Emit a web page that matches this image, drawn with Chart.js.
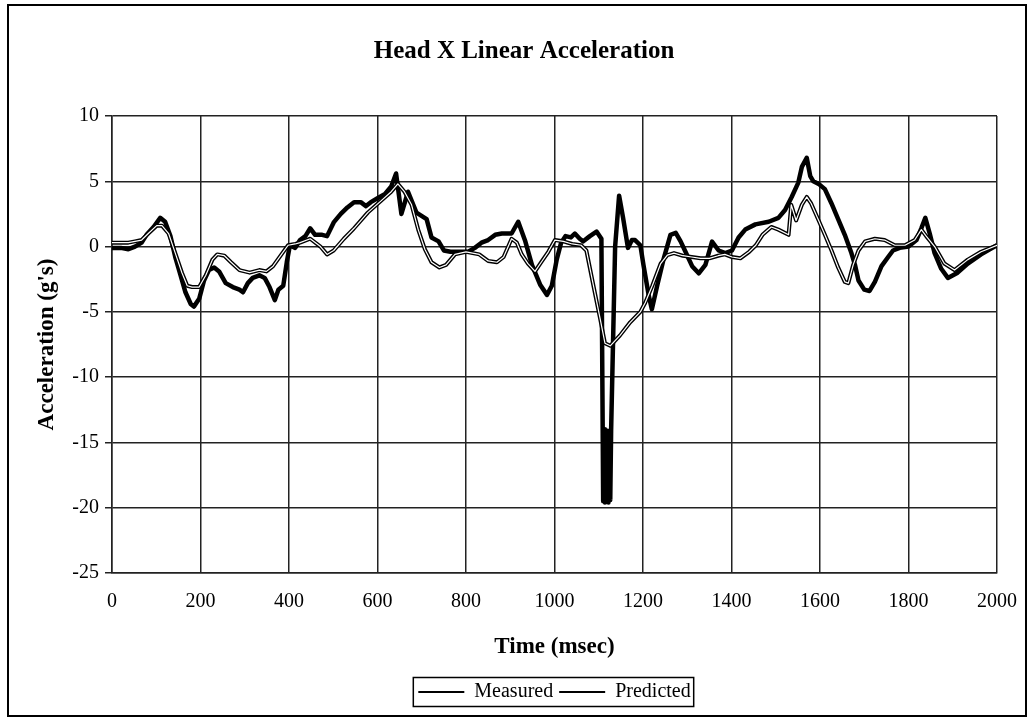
<!DOCTYPE html>
<html>
<head>
<meta charset="utf-8">
<title>Head X Linear Acceleration</title>
<script src="https://cdn.jsdelivr.net/npm/chart.js@4.4.1/dist/chart.umd.min.js"></script>
<style>
    html, body { margin: 0; padding: 0; background: #fff; }
    #wrap { width: 1029px; height: 721px; }
</style>
</head>
<body>
<div id="wrap"><canvas id="accelChart" width="1029" height="721"></canvas></div>
<script>
// Chart text
const CHART_TITLE = 'Head X Linear Acceleration';
const X_TITLE = 'Time (msec)';
const Y_TITLE = "Acceleration (g's)";
const SERIES_NAMES = ['Measured', 'Predicted'];

// Measured trace (msec, g's)
const measuredTime = [
    0, 20, 37, 52, 67, 78, 94, 109, 120, 132, 143, 155, 166, 178, 185, 197, 208, 219, 231, 242,
    257, 273, 288, 296, 307, 318, 333, 345, 356, 368, 376, 387, 395, 402, 414, 425, 437, 448, 459, 475,
    486, 501, 517, 532, 547, 562, 574, 585, 600, 616, 631, 642, 654, 669, 688, 711, 722, 738, 750, 765,
    783, 805, 820, 835, 850, 866, 881, 903, 918, 934, 949, 968, 983, 994, 1005, 1015, 1025, 1037, 1046, 1057,
    1065, 1080, 1095, 1106, 1110, 1112, 1114, 1116, 1118, 1120, 1122, 1124, 1126, 1128, 1137, 1146, 1155, 1166, 1175, 1182,
    1194, 1201, 1213, 1220, 1232, 1247, 1262, 1274, 1285, 1296, 1311, 1326, 1341, 1356, 1371, 1386, 1401, 1416, 1431, 1454,
    1484, 1506, 1521, 1536, 1551, 1559, 1570, 1578, 1585, 1597, 1611, 1626, 1641, 1656, 1671, 1679, 1687, 1700, 1712, 1724,
    1739, 1754, 1765, 1780, 1800, 1818, 1829, 1838, 1848, 1859, 1874, 1889, 1911, 1934, 1964, 2000
];
const measuredAccel = [
    -0.1, -0.1, -0.2, 0.0, 0.3, 0.9, 1.5, 2.2, 1.9, 0.8, -0.8, -2.2, -3.5, -4.4, -4.6, -4.0, -2.6, -1.8, -1.6, -1.9,
    -2.8, -3.1, -3.3, -3.5, -2.8, -2.4, -2.2, -2.4, -3.1, -4.1, -3.3, -3.0, -1.2, 0.1, -0.1, 0.5, 0.8, 1.4, 0.9, 0.9,
    0.8, 1.85, 2.5, 3.0, 3.4, 3.4, 3.1, 3.4, 3.7, 4.0, 4.6, 5.6, 2.5, 4.2, 2.6, 2.1, 0.7, 0.4, -0.3, -0.4,
    -0.4, -0.4, -0.1, 0.3, 0.5, 0.9, 1.0, 1.0, 1.9, 0.4, -1.4, -2.95, -3.7, -3.0, -1.0, 0.3, 0.8, 0.7, 1.0, 0.6,
    0.4, 0.8, 1.15, 0.6, -19.5, -14.0, -19.6, -14.2, -19.5, -14.1, -19.6, -14.3, -19.4, -14.0, 0.0, 3.9, 2.2, -0.1, 0.5, 0.5,
    0.1, -1.4, -3.75, -4.8, -3.0, -0.9, 0.9, 1.05, 0.4, -0.4, -1.5, -2.05, -1.4, 0.38, -0.3, -0.5, -0.3, 0.7, 1.3, 1.7,
    1.9, 2.2, 2.8, 3.8, 4.9, 6.1, 6.8, 5.4, 5.0, 4.8, 4.4, 3.3, 2.1, 0.9, -0.5, -1.4, -2.6, -3.3, -3.4, -2.7,
    -1.5, -0.8, -0.3, -0.1, 0.0, 0.5, 1.4, 2.2, 1.0, -0.5, -1.7, -2.4, -2.0, -1.3, -0.6, 0.1
];

// Predicted trace (msec, g's)
const predictedTime = [
    0, 20, 37, 52, 67, 82, 101, 113, 128, 143, 158, 170, 181, 197, 212, 227, 238, 254, 269, 288,
    311, 333, 349, 364, 383, 398, 414, 425, 448, 471, 486, 501, 524, 547, 578, 608, 631, 646, 661, 677,
    692, 707, 722, 740, 755, 775, 800, 830, 850, 870, 885, 903, 915, 926, 940, 956, 970, 986, 1001, 1020,
    1040, 1060, 1072, 1088, 1103, 1114, 1126, 1148, 1171, 1194, 1205, 1221, 1240, 1255, 1270, 1290, 1310, 1330, 1350, 1370,
    1385, 1401, 1420, 1440, 1455, 1470, 1490, 1506, 1529, 1535, 1546, 1559, 1570, 1580, 1597, 1611, 1626, 1641, 1656, 1664,
    1675, 1687, 1702, 1724, 1746, 1769, 1792, 1814, 1829, 1840, 1859, 1881, 1904, 1934, 1964, 2000
];
const predictedAccel = [
    0.3, 0.3, 0.3, 0.4, 0.5, 1.0, 1.6, 1.6, 1.0, -0.5, -2.0, -3.0, -3.1, -3.1, -2.2, -1.0, -0.6, -0.7, -1.2, -1.8,
    -2.0, -1.8, -1.9, -1.5, -0.6, 0.1, 0.2, 0.3, 0.6, 0.0, -0.6, -0.3, 0.6, 1.4, 2.6, 3.5, 4.2, 4.8, 4.2, 3.2,
    1.3, -0.2, -1.2, -1.6, -1.4, -0.6, -0.4, -0.6, -1.1, -1.2, -0.8, 0.6, 0.3, -0.6, -1.3, -1.9, -1.2, -0.4, 0.5, 0.4,
    0.2, 0.1, -0.3, -3.0, -5.5, -7.4, -7.6, -6.8, -5.8, -5.0, -4.3, -3.0, -1.3, -0.65, -0.5, -0.7, -0.8, -0.9, -0.9, -0.7,
    -0.6, -0.8, -0.9, -0.4, 0.1, 0.9, 1.5, 1.3, 0.9, 3.2, 2.0, 3.2, 3.8, 3.3, 2.0, 0.9, -0.3, -1.6, -2.7, -2.8,
    -1.4, -0.3, 0.4, 0.6, 0.5, 0.1, 0.1, 0.5, 1.3, 0.8, 0.0, -1.3, -1.8, -1.0, -0.4, 0.1
];

const FONT_FAMILY = '"Liberation Serif", "Times New Roman", serif';

function toPoints(times, values) {
    return times.map((t, i) => ({ x: t, y: values[i] }));
}

/**
 * Draws the page frame, the title and the box round the legend
 */
const framePlugin = {
    id: 'frame',
    afterDraw(chart) {
        const ctx = chart.ctx;
        ctx.save();
        ctx.strokeStyle = '#000';
        ctx.lineWidth = 2;
        ctx.strokeRect(8, 5, 1018, 711);

        ctx.fillStyle = '#000';
        ctx.font = 'bold 25px ' + FONT_FAMILY;
        ctx.textAlign = 'center';
        ctx.textBaseline = 'middle';
        ctx.fillText(CHART_TITLE, 524, 52);

        const boxes = chart.legend.legendHitBoxes;
        if (boxes && boxes.length) {
            const left = Math.min(...boxes.map(b => b.left));
            const right = Math.max(...boxes.map(b => b.left + b.width));
            const mid = boxes[0].top + boxes[0].height / 2;
            ctx.lineWidth = 1.5;
            ctx.strokeRect(left - 5, mid - 14.5, right - left + 8, 29);
        }
        ctx.restore();
    }
};

const measuredPoints = toPoints(measuredTime, measuredAccel);
const predictedPoints = toPoints(predictedTime, predictedAccel);

const chart = new Chart(document.getElementById('accelChart'), {
    type: 'line',
    data: {
        datasets: [
            {
                label: SERIES_NAMES[0],
                data: measuredPoints,
                borderColor: '#000',
                borderWidth: 4.5,
                borderJoinStyle: 'round',
                pointRadius: 0,
                tension: 0,
                order: 3
            },
            {
                label: SERIES_NAMES[1],
                data: predictedPoints,
                borderColor: '#000',
                borderWidth: 4,
                borderJoinStyle: 'round',
                pointRadius: 0,
                tension: 0,
                order: 2
            },
            {
                // white core of the predicted line
                label: 'core',
                data: predictedPoints,
                borderColor: '#fff',
                borderWidth: 1.2,
                borderJoinStyle: 'round',
                pointRadius: 0,
                tension: 0,
                order: 1
            }
        ]
    },
    options: {
        responsive: false,
        animation: false,
        devicePixelRatio: 1,
        layout: {
            padding: { left: 24, right: 32, top: 116, bottom: 9 }
        },
        plugins: {
            title: { display: false },
            tooltip: { enabled: false },
            legend: {
                display: true,
                position: 'bottom',
                fullSize: false,
                labels: {
                    usePointStyle: true,
                    pointStyle: 'line',
                    pointStyleWidth: 46,
                    padding: 6,
                    color: '#000',
                    font: { family: FONT_FAMILY, size: 20 },
                    generateLabels: function(chart) {
                        const items = Chart.defaults.plugins.legend.labels.generateLabels(chart);
                        return items
                            .filter(item => item.datasetIndex < 2)
                            .sort((a, b) => a.datasetIndex - b.datasetIndex)
                            .map(item => Object.assign(item, { lineWidth: 2, strokeStyle: '#000' }));
                    }
                }
            }
        },
        scales: {
            x: {
                type: 'linear',
                min: 0,
                max: 2000,
                ticks: {
                    stepSize: 200,
                    padding: 17,
                    color: '#000',
                    maxRotation: 0,
                    font: { family: FONT_FAMILY, size: 20 },
                    callback: value => String(value)
                },
                grid: { color: '#222', lineWidth: 1.5, drawTicks: false },
                border: { color: '#222', width: 1.5 },
                title: {
                    display: true,
                    text: X_TITLE,
                    color: '#000',
                    font: { family: FONT_FAMILY, size: 23, weight: 'bold' },
                    padding: { top: 0, bottom: 15 }
                },
                afterFit: function(scale) {
                    scale.height = 103;
                    // the end labels may hang over the plot edges
                    scale.paddingLeft = 0;
                    scale.paddingRight = 0;
                }
            },
            y: {
                min: -25,
                max: 10,
                ticks: {
                    stepSize: 5,
                    padding: 6,
                    color: '#000',
                    font: { family: FONT_FAMILY, size: 20 }
                },
                grid: { color: '#222', lineWidth: 1.5, tickLength: 7 },
                border: { color: '#222', width: 1.5 },
                title: {
                    display: true,
                    text: Y_TITLE,
                    color: '#000',
                    font: { family: FONT_FAMILY, size: 23, weight: 'bold' },
                    padding: { top: 9, bottom: 0 }
                },
                afterFit: function(scale) { scale.width = 88; }
            }
        }
    },
    plugins: [framePlugin]
});
</script>
</body>
</html>
